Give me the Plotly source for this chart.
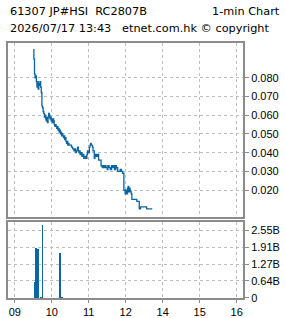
import plotly.graph_objects as go

# ---- data ----
price_times = ["09:30","09:31","09:32","09:33","09:34","09:35","09:36","09:37","09:38","09:39",
               "09:40","09:41","09:42","09:43","09:44","09:45","09:46","09:47","09:48","09:49",
               "09:50","09:51","09:52","09:53","09:54","09:55","09:56","09:57","09:58","09:59",
               "10:00","10:01","10:02","10:03","10:04","10:05","10:06","10:07","10:08","10:09",
               "10:10","10:11","10:12","10:13","10:14","10:15","10:16","10:17","10:18","10:19",
               "10:20","10:21","10:22","10:23","10:24","10:25","10:26","10:27","10:28","10:30",
               "10:32","10:34","10:36","10:38","10:39","10:40","10:42","10:43","10:44","10:45",
               "10:46","10:48","10:49","10:50","10:52","10:53","10:55","10:57","10:58","11:00",
               "11:01","11:02","11:03","11:04","11:05","11:06","11:07","11:08","11:09","11:10",
               "11:11","11:13","11:15","11:16","11:19","11:20","11:22","11:23","11:25","11:26",
               "11:28","11:30","11:31","11:33","11:35","11:37","11:39","11:40","11:42","11:44",
               "11:45","11:47","11:49","11:51","11:53","11:55","11:57","11:59","13:00","13:01",
               "13:02","13:03","13:04","13:05","13:06","13:07","13:08","13:09","13:10","13:16",
               "13:18","13:22","13:24","13:32","13:34","13:43"]
price_values = [0.095,0.090,0.082,0.080,0.081,0.078,0.075,0.078,0.074,0.077,
                0.076,0.078,0.075,0.072,0.065,0.064,0.062,0.061,0.059,0.060,
                0.058,0.057,0.059,0.056,0.059,0.061,0.060,0.058,0.059,0.057,
                0.058,0.056,0.058,0.057,0.055,0.054,0.055,0.054,0.053,0.054,
                0.052,0.053,0.051,0.052,0.050,0.051,0.049,0.050,0.049,0.048,
                0.049,0.047,0.048,0.046,0.045,0.046,0.044,0.045,0.044,0.044,
                0.043,0.042,0.041,0.042,0.040,0.041,0.043,0.041,0.040,0.041,
                0.039,0.040,0.038,0.039,0.037,0.038,0.037,0.039,0.041,0.040,
                0.043,0.044,0.045,0.044,0.044,0.043,0.041,0.041,0.037,0.038,
                0.039,0.038,0.039,0.036,0.036,0.033,0.032,0.033,0.032,0.033,
                0.032,0.031,0.033,0.032,0.031,0.033,0.032,0.033,0.031,0.033,
                0.032,0.030,0.030,0.031,0.030,0.029,0.020,0.018,0.018,0.020,
                0.018,0.021,0.022,0.019,0.021,0.020,0.019,0.018,0.015,0.015,
                0.014,0.010,0.011,0.011,0.010,0.010]

volume_times = ["09:32","09:34","09:35","09:37","09:43","09:45","10:13","10:14","10:16"]
volume_values = [0.62e9, 0.81e9, 1.88e9, 1.84e9, 0.05e9, 2.73e9, 1.70e9, 0.32e9, 0.05e9]

hour_labels = ["09","10","11","12","14","15","16"]
hour_ticks = ["09:00","10:00","11:00","12:00","14:00","15:00","16:00"]

price_ticks = [0.020, 0.030, 0.040, 0.050, 0.060, 0.070, 0.080]
vol_ticks = [0, 0.64e9, 1.27e9, 1.91e9, 2.55e9]
vol_tick_text = ["0", "0.64B", "1.27B", "1.91B", "2.55B"]

title_left = "61307 JP#HSI  RC2807B"
title_right = "1-min Chart"
subtitle = "2026/07/17 13:43   etnet.com.hk \u00a9 copyright"


def trade_min(t):
    """minutes since 09:00 with the 12:00-13:00 lunch break removed"""
    h, m = map(int, t.split(":"))
    total = h * 60 + m
    if total >= 13 * 60:
        total -= 60
    return total - 9 * 60


px = [trade_min(t) for t in price_times]
vx = [trade_min(t) for t in volume_times]
tx = [trade_min(t) for t in hour_ticks]

LINE = "#0B65A3"
GRID = "#BDBDBD"
BORDER = "#8C8C8C"
FONT = "Liberation Sans"
TFONT = "DejaVu Sans"

fig = go.Figure()
fig.add_trace(go.Scatter(x=px, y=price_values, mode="lines", line=dict(color=LINE, width=1.3, shape="hv"),
                         xaxis="x", yaxis="y", hoverinfo="skip", showlegend=False))
fig.add_trace(go.Bar(x=vx, y=volume_values, marker=dict(color=LINE, line=dict(width=0)), width=1.5,
                     xaxis="x2", yaxis="y2", hoverinfo="skip", showlegend=False))

xr = [-11, 370.3]
common_x = dict(range=xr, tickvals=tx, showgrid=True, gridcolor=GRID, griddash="dot", gridwidth=1,
                showline=True, linecolor=BORDER, linewidth=2, mirror=True, zeroline=False,
                fixedrange=True, automargin=False)

fig.update_layout(
    width=285, height=318,
    margin=dict(l=8, r=42, t=43, b=20, autoexpand=False),
    paper_bgcolor="white", plot_bgcolor="white",
    font=dict(family=FONT, size=11, color="black"),
    bargap=0,
    xaxis=dict(domain=[0, 1], anchor="y", showticklabels=False, ticks="", **common_x),
    xaxis2=dict(domain=[0, 1], anchor="y2", ticktext=hour_labels, ticks="outside", ticklen=3,
                tickcolor=BORDER, tickfont=dict(size=11), **common_x),
    yaxis=dict(domain=[0.3176, 1], anchor="x", side="right", range=[0.0056, 0.0986],
               tickvals=price_ticks, tickformat=".3f", ticks="outside", ticklen=4, tickcolor=BORDER,
               showgrid=True, gridcolor=GRID, griddash="dot", showline=True, linecolor=BORDER,
               linewidth=2, mirror=True, zeroline=False, tickfont=dict(size=11), automargin=False),
    yaxis2=dict(domain=[0, 0.299], anchor="x2", side="right", range=[0, 2.86e9],
                tickvals=vol_ticks, ticktext=vol_tick_text, ticks="outside", ticklen=4, tickcolor=BORDER,
                showgrid=True, gridcolor=GRID, griddash="dot", showline=True, linecolor=BORDER,
                linewidth=2, mirror=True, zeroline=False, tickfont=dict(size=11), automargin=False),
    annotations=[
        dict(text=title_left, xref="paper", yref="paper", x=0, y=1.1216, xanchor="left", yanchor="middle",
             showarrow=False, font=dict(family=TFONT, size=11.3)),
        dict(text=title_right, xref="paper", yref="paper", x=1.166, y=1.1216, xanchor="right", yanchor="middle",
             showarrow=False, font=dict(family=TFONT, size=11.3)),
        dict(text=subtitle, xref="paper", yref="paper", x=0, y=1.0588, xanchor="left", yanchor="middle",
             showarrow=False, font=dict(family=TFONT, size=11.3)),
    ],
)

fig.write_html("out.html", config={"displayModeBar": False})
